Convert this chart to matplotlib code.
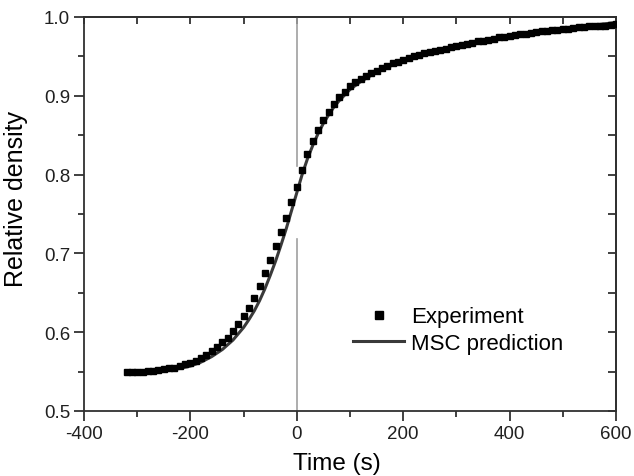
import numpy as np
import matplotlib
matplotlib.use("Agg")
import matplotlib.pyplot as plt
from matplotlib.ticker import MultipleLocator

plt.rcParams['font.family'] = ['Liberation Sans', 'DejaVu Sans']
plt.rcParams['axes.unicode_minus'] = False

# experiment: one point every 10 s from -320 to 600
exp_time = list(range(-320, 601, 10))
exp_density = [
    0.549, 0.549, 0.550, 0.550, 0.551, 0.551, 0.552, 0.553, 0.554, 0.555,
    0.557, 0.559, 0.561, 0.564, 0.567, 0.571, 0.576, 0.581, 0.587, 0.593,
    0.601, 0.610, 0.620, 0.631, 0.643, 0.658, 0.675, 0.691, 0.709, 0.727,
    0.745, 0.765, 0.784, 0.806, 0.826, 0.843, 0.857, 0.869, 0.880, 0.889,
    0.898, 0.905, 0.912, 0.917, 0.921, 0.925, 0.929, 0.932, 0.935, 0.938,
    0.941, 0.943, 0.946, 0.948, 0.950, 0.952, 0.954, 0.955, 0.957, 0.958,
    0.960, 0.962, 0.963, 0.965, 0.966, 0.967, 0.969, 0.970, 0.971, 0.972,
    0.974, 0.975, 0.976, 0.977, 0.978, 0.979, 0.980, 0.981, 0.982, 0.982,
    0.983, 0.984, 0.985, 0.985, 0.986, 0.987, 0.987, 0.988, 0.988, 0.989,
    0.989, 0.990, 0.991,
]

# MSC prediction curve
msc_time = [-320, -300, -280, -260, -240, -220, -200, -180, -160, -140,
            -120, -110, -100, -90, -80, -70, -60, -50, -40, -30, -20, -10,
            0, 10, 20, 30, 40, 50, 60, 70, 80, 100, 120, 140, 160, 180,
            200, 250, 300, 350, 400, 450, 500, 550, 600]
msc_density = [0.547, 0.548, 0.549, 0.550, 0.552, 0.554, 0.557, 0.562, 0.569,
               0.578, 0.590, 0.598, 0.606, 0.616, 0.627, 0.640, 0.655, 0.672,
               0.690, 0.710, 0.731, 0.754, 0.777, 0.800, 0.820, 0.837, 0.852,
               0.865, 0.876, 0.886, 0.894, 0.908, 0.918, 0.926, 0.933, 0.939,
               0.944, 0.954, 0.962, 0.969, 0.975, 0.980, 0.985, 0.989, 0.993]

fig = plt.figure(figsize=(6.34, 4.77), dpi=100)
ax = fig.add_axes([0.1325, 0.1363, 0.8391, 0.826])

# grey marker line at t = 0, broken where the curve crosses it
ax.plot([0, 0], [0.811, 1.0], color='#a0a0a0', lw=1.2, zorder=1)
ax.plot([0, 0], [0.5, 0.718], color='#a0a0a0', lw=1.2, zorder=1)

ax.plot(exp_time, exp_density, 's', color='black', markersize=4.3,
        label='Experiment', zorder=3)
ax.plot(msc_time, msc_density, '-', color='#3a3a3a', lw=2.2,
        label='MSC prediction', zorder=2)

ax.set_xlim(-400, 600)
ax.set_ylim(0.5, 1.0)
ax.xaxis.set_major_locator(MultipleLocator(200))
ax.xaxis.set_minor_locator(MultipleLocator(100))
ax.yaxis.set_major_locator(MultipleLocator(0.1))
ax.yaxis.set_minor_locator(MultipleLocator(0.05))
ax.tick_params(which='both', direction='out', labelsize=13.5,
               colors='#202020', width=1.2)
ax.tick_params(which='major', length=7, pad=3)
ax.tick_params(which='minor', length=4)

# top / right: inward ticks, no labels
top = ax.secondary_xaxis('top')
top.xaxis.set_major_locator(MultipleLocator(100))
top.tick_params(direction='in', length=5, width=1.2, colors='#202020',
                labeltop=False)
right = ax.secondary_yaxis('right')
right.yaxis.set_major_locator(MultipleLocator(0.05))
right.tick_params(direction='in', length=6, width=1.2, colors='#202020',
                  labelright=False)

for a in (ax, top, right):
    for s in a.spines.values():
        s.set_linewidth(1.3)
        s.set_color('#303030')

ax.set_xlabel('Time (s)', fontsize=17.5)
ax.xaxis.set_label_coords(0.476, -0.105)
ax.set_ylabel('Relative density', fontsize=18)
ax.yaxis.set_label_coords(-0.105, 0.54)

ax.legend(loc='center left', bbox_to_anchor=(0.485, 0.205), frameon=False,
          fontsize=16, handlelength=2.3, handletextpad=0.3,
          labelspacing=0.25, borderpad=0, markerscale=1.5)

fig.savefig('out.png', dpi=100)
